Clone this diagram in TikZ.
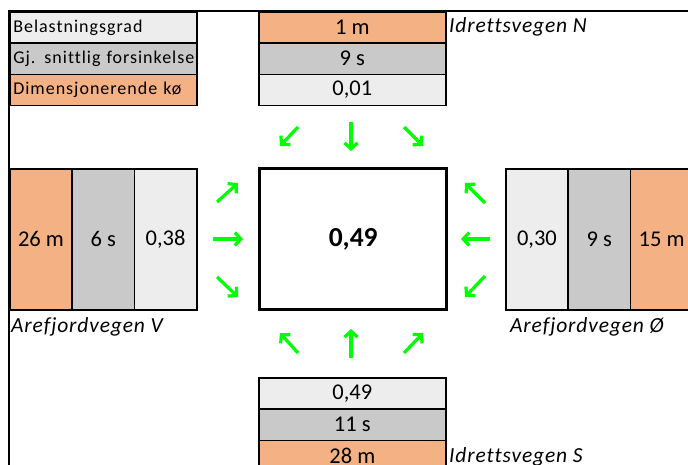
\documentclass[tikz,border=0pt]{standalone}
\usepackage{fontspec}
\setmainfont{Carlito}[Ligatures={NoCommon}]
\usetikzlibrary{arrows.meta}
\definecolor{cOrange}{HTML}{F4B183}
\definecolor{cGray}{HTML}{C9C9C9}
\definecolor{cLight}{HTML}{EDEDED}
\definecolor{cGreen}{HTML}{00FF00}
\begin{document}
\begin{tikzpicture}[x=1pt,y=-1pt,
  cell/.style={draw=black, line width=1.6pt, inner sep=0pt, anchor=north west, font=\fontsize{22.5}{25}\selectfont},
  legendcell/.style={cell, minimum width=187pt, minimum height=31.3pt, text width=186pt, align=left,
      font=\fontsize{18}{21}\selectfont\addfontfeature{LetterSpace=5.5}},
  hcell/.style={cell, minimum width=187pt, minimum height=31.3pt},
  vcell/.style={cell, minimum width=62.3pt, minimum height=141pt},
  roadlabel/.style={inner sep=0pt, font=\fontsize{21.5}{24}\selectfont\itshape\addfontfeature{LetterSpace=4}},
  flow/.style={draw=cGreen, line width=3.2pt, -{Straight Barb[length=6pt,width=13pt,line width=3.2pt]}}
]
\useasboundingbox (0,0) rectangle (688,465);
\clip (0,0) rectangle (688,465);
\fill[white] (0,0) rectangle (688,465);
% frame
\coordinate (frameTR) at (688,11);
\coordinate (frameTL) at (8.5,11);
\coordinate (frameBL) at (8.5,465);
\draw[line width=2pt] (frameTR) -- (frameTL) -- (frameBL);
% legend
\node[legendcell, fill=cLight] (lg1) at (9,11) {\hspace*{3pt}Belastningsgrad};
\node[legendcell, fill=cGray] (lg2) at (9,42.3) {\hspace*{3pt}Gj. snittlig forsinkelse};
\node[legendcell, fill=cOrange] (lg3) at (9,73.6) {\hspace*{3pt}Dimensjonerende kø};
% north
\node[hcell, fill=cOrange] (n1) at (258,11) {1 m};
\node[hcell, fill=cGray] (n2) at (258,42.3) {9 s};
\node[hcell, fill=cLight] (n3) at (258,73.6) {0,01};
\node[roadlabel, anchor=west] (nlab) at (449,27) {Idrettsvegen N};
% center
\node[draw=black, line width=3.4pt, minimum width=187pt, minimum height=141pt, anchor=north west,
      font=\fontsize{27.5}{30}\selectfont\bfseries] (ctr) at (258,167) {0,49};
% west
\node[vcell, fill=cOrange] (w1) at (9,168) {26 m};
\node[vcell, fill=cGray] (w2) at (71.3,168) {6 s};
\node[vcell, fill=cLight] (w3) at (133.6,168) {0,38};
\node[roadlabel, anchor=west] (wlab) at (11,327) {Arefjordvegen V};
% east
\node[vcell, fill=cLight] (e1) at (505,168) {0,30};
\node[vcell, fill=cGray] (e2) at (567.3,168) {9 s};
\node[vcell, fill=cOrange] (e3) at (629.6,168) {15 m};
\node[roadlabel, anchor=west] (elab) at (510,327) {Arefjordvegen Ø};
% south
\node[hcell, fill=cLight] (s1) at (258,377) {0,49};
\node[hcell, fill=cGray] (s2) at (258,408.3) {11 s};
\node[hcell, fill=cOrange] (s3) at (258,439.6) {28 m};
\node[roadlabel, anchor=west] (slab) at (449,457) {Idrettsvegen S};
% arrows north
\coordinate (nA1) at (298,127); \coordinate (nB1) at (280,146);
\coordinate (nA2) at (351,122); \coordinate (nB2) at (351,151);
\coordinate (nA3) at (404,127); \coordinate (nB3) at (423,146);
% west
\coordinate (wA1) at (217,202); \coordinate (wB1) at (238,183);
\coordinate (wA2) at (213,239); \coordinate (wB2) at (243,239);
\coordinate (wA3) at (217,277); \coordinate (wB3) at (238,297);
% east
\coordinate (eA1) at (485,203); \coordinate (eB1) at (465,183);
\coordinate (eA2) at (490,239); \coordinate (eB2) at (461,239);
\coordinate (eA3) at (485,276); \coordinate (eB3) at (465,297);
% south
\coordinate (sA1) at (298,353); \coordinate (sB1) at (280,333);
\coordinate (sA2) at (351,358); \coordinate (sB2) at (351,329);
\coordinate (sA3) at (404,353); \coordinate (sB3) at (423,333);
\foreach \d in {n,w,e,s}{\foreach \i in {1,2,3}{\draw[flow] (\d A\i) -- (\d B\i);}}
\end{tikzpicture}
\end{document}
